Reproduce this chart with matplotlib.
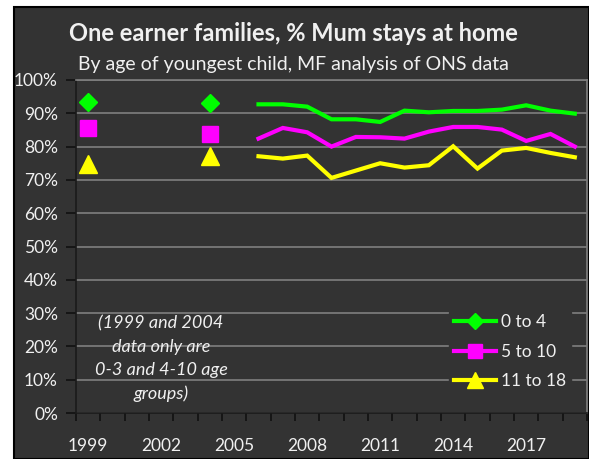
import matplotlib
matplotlib.use("Agg")
import matplotlib.pyplot as plt
import numpy as np
from matplotlib.patches import Rectangle

plt.rcParams['font.family'] = ['Lato', 'DejaVu Sans']

# dados (NaN = sem dado)
years = list(range(1999, 2020))
nan = np.nan
age_0_4 = [93.5, nan, nan, nan, nan, 93.0, nan, 92.7, 92.7, 92.0, 88.2, 88.2, 87.4,
           90.8, 90.3, 90.7, 90.7, 91.1, 92.4, 90.8, 89.9]
age_5_10 = [85.7, nan, nan, nan, nan, 83.8, nan, 82.4, 85.6, 84.3, 80.0, 82.9, 82.8,
            82.4, 84.5, 85.9, 85.9, 85.1, 81.7, 83.8, 80.0]
age_11_18 = [74.8, nan, nan, nan, nan, 77.1, nan, 77.1, 76.4, 77.3, 70.6, 72.8, 75.0,
             73.7, 74.4, 80.1, 73.4, 78.8, 79.6, 78.1, 76.8]
series_labels = ['0 to 4', '5 to 10', '11 to 18']
tick_years = [1999, 2002, 2005, 2008, 2011, 2014, 2017]

bg = '#333333'
txt = '#f0f0f0'
W, H = 589, 459

fig = plt.figure(figsize=(W / 100, H / 100), dpi=100, facecolor='white')
# fundo escuro do gráfico
fig.patches.append(Rectangle((14 / W, 0), 1 - 14 / W, 1 - 7 / H, transform=fig.transFigure,
                             facecolor=bg, edgecolor='black', linewidth=1.5, zorder=-10))

ax = fig.add_axes([76 / W, 46 / H, (587 - 76) / W, (413 - 80) / H])
ax.set_facecolor(bg)

x = np.arange(len(years))
styles = [('#00ff00', 'D', 9), ('#ff00ff', 's', 11.5), ('#ffff00', '^', 13)]
for vals, lab, (c, m, ms) in zip([age_0_4, age_5_10, age_11_18], series_labels, styles):
    ax.plot(x, vals, color=c, lw=3, marker=m, markersize=ms, markevery=[0, 5],
            markeredgecolor=c, label=lab, solid_joinstyle='miter', zorder=3)

ax.set_xlim(-0.5, len(years) - 0.5)
ax.set_ylim(0, 100)
ax.set_yticks(range(0, 101, 10))
ax.set_yticklabels([f'{v}%' for v in range(0, 101, 10)])
ax.grid(axis='y', color='#7f7f7f', linewidth=1.2, zorder=1)

ax.set_xticks([years.index(y) for y in tick_years])
ax.set_xticklabels([str(y) for y in tick_years])
ax.set_xticks(np.arange(-0.5, len(years)), minor=True)
ax.tick_params(axis='x', which='major', length=0, pad=18, labelsize=12.5, colors=txt)
ax.tick_params(axis='x', which='minor', length=6, width=1.2, color='#111111', direction='out')
ax.tick_params(axis='y', length=7, width=1.2, color='#111111', labelsize=12.5, colors=txt, pad=6)
ax.tick_params(axis='y', color='#111111')

for s in ['left', 'bottom']:
    ax.spines[s].set_color('#1a1a1a')
    ax.spines[s].set_linewidth(1.2)
for s in ['top', 'right']:
    ax.spines[s].set_color('#7f7f7f')
    ax.spines[s].set_linewidth(1.2)

fig.text(293 / W, 1 - 41 / H, 'One earner families, % Mum stays at home', ha='center',
         va='baseline', fontsize=17, fontweight='bold', color=txt)
fig.text(293 / W, 1 - 70 / H, 'By age of youngest child, MF analysis of ONS data', ha='center',
         va='baseline', fontsize=14, color=txt)

note = '(1999 and 2004\ndata only are\n0-3 and 4-10 age\ngroups)'
ax.text(3.0, 16.3, note, ha='center', va='center', style='italic', fontsize=13,
        color=txt, linespacing=1.55, zorder=2)

leg = ax.legend(loc='lower right', bbox_to_anchor=(0.986, 0.03), frameon=True,
                facecolor=bg, edgecolor=bg, framealpha=1, fontsize=12.5, labelcolor=txt,
                handlelength=2.4, handletextpad=0.3, labelspacing=0.77, markerscale=0.85,
                borderpad=0.3)
leg.set_zorder(4)

fig.savefig('out.png', dpi=100, facecolor='white')
